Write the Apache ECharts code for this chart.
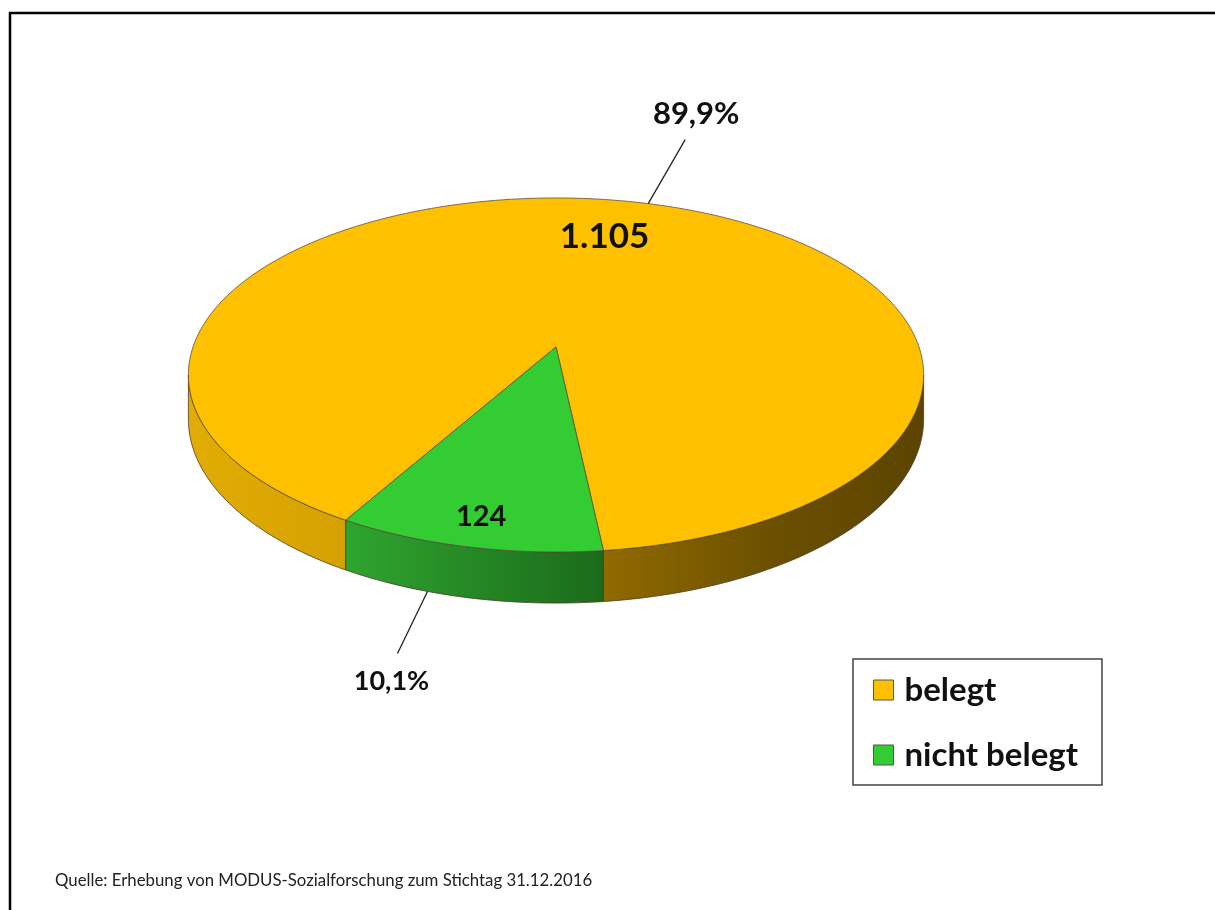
<!DOCTYPE html>
<html>
<head>
<meta charset="utf-8">
<script src="https://cdn.jsdelivr.net/npm/echarts@6/dist/echarts.min.js"></script>
<style>
html,body{margin:0;padding:0;background:#fff;}
#chart{width:1215px;height:910px;}
</style>
</head>
<body>
<div id="chart"></div>
<script>
// ---- data ----
const categories = ['belegt', 'nicht belegt'];
const values = [1105, 124];
const sourceText = 'Quelle: Erhebung von MODUS-Sozialforschung zum Stichtag 31.12.2016';

// ---- style ----
const topColors = ['#FFC000', '#33CC33'];
const sideColors = [
  [[0, '#E2AC06'], [0.2, '#D6A200'], [0.42, '#B48500'], [0.58, '#8E6800'], [0.8, '#6B4F00'], [1, '#5C4400']],
  [[0, '#2FA52F'], [1, '#1B6A1B']]
];
const innerR = [0.725, 0.87];
const leader = [
  {phi: 17, depth: false, dx: 37, dy: -64, tx: 11, ty: -26, size: 31},
  {phi: 197.5, depth: true, dx: -30, dy: 62, tx: -6, ty: 28, size: 27}
];
const innerSize = [35, 29];
const START = 210;
const CX = 556, CY = 347, A = 172.6, B = 363, K = 0.158, D = 43;
const FONT = 'Lato';

const total = values.reduce((a, b) => a + b, 0);
const starts = [];
{ let acc = START; values.forEach(v => { starts.push(acc); acc += v / total * 360; }); }

function proj(phiDeg, r, withDepth) {
  const p = phiDeg * Math.PI / 180;
  const u = r * Math.sin(p), v = -r * Math.cos(p);
  const den = 1 - K * v;
  return [CX + B * u / den, CY + A * v / den + (withDepth ? D / den : 0)];
}
function arc(a, b, r, withDepth) {
  const pts = [];
  const n = Math.max(2, Math.ceil(Math.abs(b - a)));
  for (let i = 0; i <= n; i++) pts.push(proj(a + (b - a) * i / n, r, withDepth));
  return pts;
}
const visLo = Math.acos(-K) * 180 / Math.PI, visHi = 360 - visLo;

function renderSlice(idx) {
  const val = values[idx];
  const s = starts[idx], e = s + val / total * 360;
  const children = [];
  // sides
  for (let k = -1; k <= 2; k++) {
    const lo = Math.max(s, visLo + 360 * k), hi = Math.min(e, visHi + 360 * k);
    if (hi > lo) {
      const top = arc(lo, hi, 1, false);
      const bot = arc(hi, lo, 1, true);
      let gx0 = 188, gx1 = 924;
      if (idx === 1) { gx0 = proj(lo, 1, false)[0]; gx1 = proj(hi, 1, false)[0]; if (gx0 > gx1) { const t = gx0; gx0 = gx1; gx1 = t; } }
      children.push({
        type: 'polygon',
        shape: {points: top.concat(bot)},
        style: {
          fill: {type: 'linear', x: gx0, y: 0, x2: gx1, y2: 0, global: true,
                 colorStops: sideColors[idx].map(c => ({offset: c[0], color: c[1]}))},
          stroke: '#4a3c20', lineWidth: 0.8
        }
      });
    }
  }
  // top face
  const topPts = [[CX, CY]].concat(arc(s, e, 1, false));
  children.push({
    type: 'polygon', shape: {points: topPts},
    style: {fill: topColors[idx], stroke: '#5a5040', lineWidth: 0.8}
  });
  // inner value label
  const mid = (s + e) / 2;
  const ip = proj(mid, innerR[idx], false);
  children.push({
    type: 'text',
    style: {x: ip[0], y: ip[1], text: val.toLocaleString('de-DE'), fill: '#111',
            font: 'bold ' + innerSize[idx] + 'px ' + FONT, align: 'center', verticalAlign: 'middle'}
  });
  // outer percent label with leader
  const L = leader[idx];
  const p0 = proj(L.phi, 1, L.depth);
  const p1 = [p0[0] + L.dx, p0[1] + L.dy];
  children.push({type: 'line', shape: {x1: p0[0], y1: p0[1], x2: p1[0], y2: p1[1]},
                 style: {stroke: '#222', lineWidth: 1.3}});
  const pct = (val / total * 100).toFixed(1).replace('.', ',') + '%';
  children.push({
    type: 'text',
    style: {x: p1[0] + L.tx, y: p1[1] + L.ty, text: pct, fill: '#111',
            font: 'bold ' + L.size + 'px ' + FONT, align: 'center', verticalAlign: 'middle'}
  });
  return {type: 'group', children};
}

const chart = echarts.init(document.getElementById('chart'), null, {renderer: 'canvas'});
const series = categories.map((name, i) => ({
  type: 'custom',
  name,
  coordinateSystem: 'none',
  data: [[values[i]]],
  z: 2 + i,
  itemStyle: {color: topColors[i], borderColor: '#555', borderWidth: 1},
  renderItem: () => renderSlice(i),
  animation: false,
  silent: true
}));

chart.setOption({
  backgroundColor: '#fff',
  animation: false,
  legend: {
    orient: 'vertical',
    left: 868, top: 664,
    data: categories,
    itemWidth: 20, itemHeight: 20, itemGap: 23,
    icon: 'rect',
    selectedMode: false,
    itemStyle: {borderColor: '#555', borderWidth: 1},
    textStyle: {fontFamily: FONT, fontWeight: 'bold', fontSize: 33, color: '#111', lineHeight: 42, padding: [0, 0, 0, 6]}
  },
  graphic: [
    {type: 'line', shape: {x1: 9, y1: 13, x2: 1215, y2: 13}, style: {stroke: '#000', lineWidth: 2.5}},
    {type: 'line', shape: {x1: 10, y1: 12, x2: 10, y2: 910}, style: {stroke: '#000', lineWidth: 2.5}},
    {type: 'rect', shape: {x: 853, y: 659, width: 249, height: 126},
     style: {fill: 'none', stroke: '#444', lineWidth: 1.5}},
    {type: 'text', style: {x: 55, y: 881, text: sourceText, fill: '#222',
     font: '16.8px ' + FONT, verticalAlign: 'middle'}}
  ],
  series
});
</script>
</body>
</html>
